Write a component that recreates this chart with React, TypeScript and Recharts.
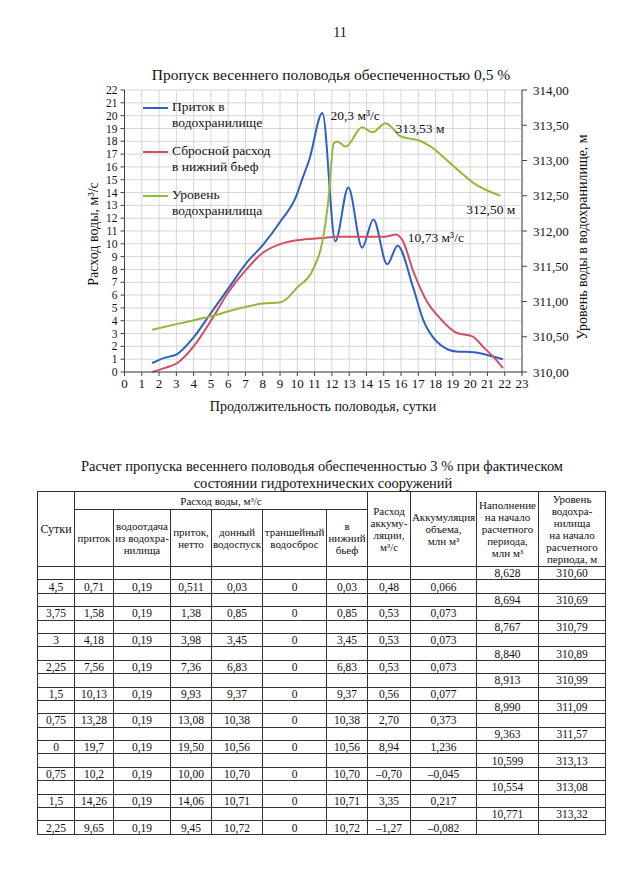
import { CartesianGrid, Line, LineChart, XAxis, YAxis } from "recharts";

// chart: days on x, flow (m3/s) on left, reservoir level (m) on right
const dayTicks = [0, 1, 2, 3, 4, 5, 6, 7, 8, 9, 10, 11, 12, 13, 14, 15, 16, 17, 18, 19, 20, 21, 22, 23];
const flowTicks = [0, 1, 2, 3, 4, 5, 6, 7, 8, 9, 10, 11, 12, 13, 14, 15, 16, 17, 18, 19, 20, 21, 22];
const levelTicks = [310, 310.5, 311, 311.5, 312, 312.5, 313, 313.5, 314];

const inflowDays = [1.6, 2.3, 3.05, 4.0, 5.0, 6.0, 7.05, 8.0, 9.05, 9.9, 10.3, 10.7, 11.45, 12.2, 12.95, 13.75, 14.4, 15.2, 15.8, 16.7, 17.3, 18.05, 19.2, 20.2, 21.2, 21.9];
const inflowValues = [0.7, 1.1, 1.4, 2.7, 4.6, 6.5, 8.5, 9.9, 11.8, 13.6, 15.1, 16.6, 20.2, 10.2, 14.4, 9.7, 11.9, 8.4, 9.85, 6.6, 4.0, 2.4, 1.6, 1.55, 1.25, 1.0];

const outflowDays = [1.6, 2.3, 3.05, 4.0, 5.0, 6.0, 7.05, 8.0, 9.05, 10.1, 11.45, 12.2, 15.1, 15.7, 16.1, 16.7, 17.5, 18.25, 19.2, 20.1, 20.8, 21.4, 21.9];
const outflowValues = [0, 0.3, 0.7, 2.0, 4.0, 6.2, 8.0, 9.3, 10.0, 10.3, 10.45, 10.56, 10.56, 10.73, 10.24, 7.9, 5.5, 4.2, 3.06, 2.8, 1.9, 1.1, 0.3];

const levelDays = [1.6, 3.2, 5.0, 6.6, 8.0, 9.05, 10.0, 10.9, 11.45, 11.8, 12.1, 12.3, 12.8, 13.75, 14.35, 15.1, 16.0, 17.1, 17.7, 18.9, 20.2, 21.75];
const levelValues = [310.6, 310.69, 310.79, 310.9, 310.97, 310.99, 311.2, 311.45, 311.85, 312.45, 313.24, 313.27, 313.2, 313.47, 313.4, 313.53, 313.34, 313.28, 313.2, 312.95, 312.68, 312.5];

const seriesNames = ["Приток в\nводохранилище", "Сбросной расход\nв нижний бьеф", "Уровень\nводохранилища"];
const seriesColors = ["#2f5fc4", "#d24f63", "#94b83a"];

const inflowNote = "20,3 м³/с";
const outflowNote = "10,73 м³/с";
const levelPeakNote = "313,53 м";
const levelEndNote = "312,50 м";

// table
const tDays = ["4,5", "3,75", "3", "2,25", "1,5", "0,75", "0", "0,75", "1,5", "2,25"];
const tInflow = ["0,71", "1,58", "4,18", "7,56", "10,13", "13,28", "19,7", "10,2", "14,26", "9,65"];
const tRelease = ["0,19", "0,19", "0,19", "0,19", "0,19", "0,19", "0,19", "0,19", "0,19", "0,19"];
const tNet = ["0,511", "1,38", "3,98", "7,36", "9,93", "13,08", "19,50", "10,00", "14,06", "9,45"];
const tBottom = ["0,03", "0,85", "3,45", "6,83", "9,37", "10,38", "10,56", "10,70", "10,71", "10,72"];
const tSpill = ["0", "0", "0", "0", "0", "0", "0", "0", "0", "0"];
const tDown = ["0,03", "0,85", "3,45", "6,83", "9,37", "10,38", "10,56", "10,70", "10,71", "10,72"];
const tAccRate = ["0,48", "0,53", "0,53", "0,53", "0,56", "2,70", "8,94", "–0,70", "3,35", "–1,27"];
const tAccVol = ["0,066", "0,073", "0,073", "0,073", "0,077", "0,373", "1,236", "–0,045", "0,217", "–0,082"];
const tFill = ["8,628", "8,694", "8,767", "8,840", "8,913", "8,990", "9,363", "10,599", "10,554", "10,771"];
const tLevel = ["310,60", "310,69", "310,79", "310,89", "310,99", "311,09", "311,57", "313,13", "313,08", "313,32"];

const inflowData = inflowDays.map((d, i) => ({ day: d, q: inflowValues[i] }));
const outflowData = outflowDays.map((d, i) => ({ day: d, q: outflowValues[i] }));
const levelData = levelDays.map((d, i) => ({ day: d, h: levelValues[i] }));

const FONT = '"Liberation Serif", "Times New Roman", serif';

const maxIndex = (arr: number[]) => arr.indexOf(Math.max(...arr));

function note(idx: number, text: string, dx: number, dy: number, anchor: "start" | "end" = "start") {
  return (p: any) => {
    if (p.index !== idx) return null;
    const x = p.x ?? p.viewBox?.x;
    const y = p.y ?? p.viewBox?.y;
    return (
      <text key={"n" + idx} x={x + dx} y={y + dy} textAnchor={anchor} fontSize={13.5} fontFamily={FONT} fill="#111">
        {text}
      </text>
    );
  };
}

const fmtLevel = (v: number) => v.toFixed(2).replace(".", ",");

function FloodChart() {
  const tick = { fontSize: 13, fontFamily: FONT, fill: "#111" };
  return (
    <LineChart width={640} height={430} margin={{ top: 90, right: 58, bottom: 33, left: 80 }} style={{ fontFamily: FONT }}>
      <CartesianGrid yAxisId="left" stroke="#d6d6d6" strokeWidth={1} />
      <XAxis
        dataKey="day"
        type="number"
        domain={[0, 23]}
        ticks={dayTicks}
        interval={0}
        allowDataOverflow
        height={25}
        tick={tick}
        tickSize={4}
        tickMargin={3}
        stroke="#444"
      />
      <YAxis
        yAxisId="left"
        domain={[0, 22]}
        ticks={flowTicks}
        interval={0}
        width={44.5}
        tick={{ ...tick, fontSize: 11.5 }}
        tickSize={4}
        tickMargin={3}
        stroke="#444"
      />
      <YAxis
        yAxisId="right"
        orientation="right"
        domain={[310, 314]}
        ticks={levelTicks}
        interval={0}
        width={60}
        tick={tick}
        tickSize={5}
        tickMargin={6}
        tickFormatter={fmtLevel}
        stroke="#444"
      />
      <Line
        yAxisId="left"
        data={inflowData}
        dataKey="q"
        type="monotone"
        stroke={seriesColors[0]}
        strokeWidth={2}
        dot={false}
        isAnimationActive={false}
        label={note(maxIndex(inflowValues), inflowNote, 8, 7)}
      />
      <Line
        yAxisId="left"
        data={outflowData}
        dataKey="q"
        type="monotone"
        stroke={seriesColors[1]}
        strokeWidth={2}
        dot={false}
        isAnimationActive={false}
        label={note(maxIndex(outflowValues), outflowNote, 12, 8)}
      />
      <Line
        yAxisId="right"
        data={levelData}
        dataKey="h"
        type="monotone"
        stroke={seriesColors[2]}
        strokeWidth={2}
        dot={false}
        isAnimationActive={false}
        label={(p: any) =>
          p.index === maxIndex(levelValues)
            ? note(p.index, levelPeakNote, 10, 9.5)(p)
            : p.index === levelValues.length - 1
            ? note(p.index, levelEndNote, 15, 18, "end")(p)
            : null
        }
      />
    </LineChart>
  );
}

function ChartLegend() {
  return (
    <div style={{ position: "absolute", left: 143, top: 99, fontSize: 13.5, lineHeight: "16px", fontFamily: FONT, color: "#111" }}>
      {seriesNames.map((n, i) => (
        <div key={n} style={{ display: "flex", alignItems: "flex-start", marginBottom: 12 }}>
          <div style={{ width: 25, height: 2, background: seriesColors[i], marginTop: 8, marginRight: 4 }} />
          <div style={{ whiteSpace: "pre" }}>{n}</div>
        </div>
      ))}
    </div>
  );
}

function Abs({ x, y, size = 14, children }: { x: number; y: number; size?: number; children: any }) {
  return (
    <div
      style={{
        position: "absolute",
        left: x,
        top: y,
        transform: "translate(-50%, -50%)",
        whiteSpace: "nowrap",
        fontSize: size,
        fontFamily: FONT,
        color: "#111",
      }}
    >
      {children}
    </div>
  );
}

// bottom-to-top text with a narrow layout box
function VText({ x, y, size = 14, children }: { x: number; y: number; size?: number; children: any }) {
  return (
    <div
      style={{
        position: "absolute",
        left: x,
        top: y,
        transform: "translate(-50%, -50%) rotate(180deg)",
        writingMode: "vertical-rl",
        whiteSpace: "nowrap",
        lineHeight: 1,
        fontSize: size,
        fontFamily: FONT,
        color: "#111",
      }}
    >
      {children}
    </div>
  );
}

function FloodTable() {
  const widths = [37, 39, 57, 41, 51, 64, 41, 43, 66, 62, 67];
  const cell: any = {
    border: "1px solid #333",
    padding: 0,
    textAlign: "center",
    verticalAlign: "middle",
    fontSize: 11.5,
    lineHeight: "12px",
    overflow: "hidden",
  };
  const rows: any[] = [];
  tDays.forEach((d, i) => {
    rows.push(
      <tr key={"a" + i} style={{ height: 13.4 }}>
        {Array.from({ length: 9 }).map((_, k) => (
          <td key={k} style={cell} />
        ))}
        <td style={cell}>{tFill[i]}</td>
        <td style={cell}>{tLevel[i]}</td>
      </tr>
    );
    rows.push(
      <tr key={"b" + i} style={{ height: 13.4 }}>
        <td style={cell}>{d}</td>
        <td style={cell}>{tInflow[i]}</td>
        <td style={cell}>{tRelease[i]}</td>
        <td style={cell}>{tNet[i]}</td>
        <td style={cell}>{tBottom[i]}</td>
        <td style={cell}>{tSpill[i]}</td>
        <td style={cell}>{tDown[i]}</td>
        <td style={cell}>{tAccRate[i]}</td>
        <td style={cell}>{tAccVol[i]}</td>
        <td style={cell} />
        <td style={cell} />
      </tr>
    );
  });
  const hd = { ...cell, fontSize: 11, lineHeight: "12px" };
  return (
    <table
      style={{
        position: "absolute",
        left: 37,
        top: 491,
        width: 568,
        borderCollapse: "collapse",
        tableLayout: "fixed",
        fontFamily: FONT,
        color: "#111",
      }}
    >
      <colgroup>
        {widths.map((w, i) => (
          <col key={i} style={{ width: w }} />
        ))}
      </colgroup>
      <tbody>
        <tr style={{ height: 18 }}>
          <td style={{ ...hd, fontSize: 12 }} rowSpan={2}>Сутки</td>
          <td style={hd} colSpan={6}>Расход воды, м³/с</td>
          <td style={hd} rowSpan={2}>Расход<br />аккуму-<br />ляции,<br />м³/с</td>
          <td style={hd} rowSpan={2}>Аккумуляция<br />объема,<br />млн м³</td>
          <td style={hd} rowSpan={2}>Наполнение<br />на начало<br />расчетного<br />периода,<br />млн м³</td>
          <td style={hd} rowSpan={2}>Уровень<br />водохра-<br />нилища<br />на начало<br />расчетного<br />периода, м</td>
        </tr>
        <tr style={{ height: 57 }}>
          <td style={hd}>приток</td>
          <td style={hd}>водоотдача<br />из водохра-<br />нилища</td>
          <td style={hd}>приток,<br />нетто</td>
          <td style={hd}>донный<br />водоспуск</td>
          <td style={hd}>траншейный<br />водосброс</td>
          <td style={hd}>в<br />нижний<br />бьеф</td>
        </tr>
        {rows}
      </tbody>
    </table>
  );
}

export default function App() {
  return (
    <div style={{ position: "absolute", left: 0, top: 0, width: 640, height: 895, background: "#fff", overflow: "hidden" }}>
      <Abs x={340} y={33} size={14}>11</Abs>
      <Abs x={331} y={75} size={15.5}>Пропуск весеннего половодья обеспеченностью 0,5 %</Abs>
      <div style={{ position: "absolute", left: 0, top: 0 }}>
        <FloodChart />
      </div>
      <ChartLegend />
      <VText x={94} y={234} size={14}>Расход воды, м³/с</VText>
      <VText x={583} y={237} size={14}>Уровень воды в водохранилище, м</VText>
      <Abs x={323} y={407} size={14}>Продолжительность половодья, сутки</Abs>
      <Abs x={322} y={466} size={14.5}>Расчет пропуска весеннего половодья обеспеченностью 3 % при фактическом</Abs>
      <Abs x={323} y={483} size={14.5}>состоянии гидротехнических сооружений</Abs>
      <FloodTable />
    </div>
  );
}
